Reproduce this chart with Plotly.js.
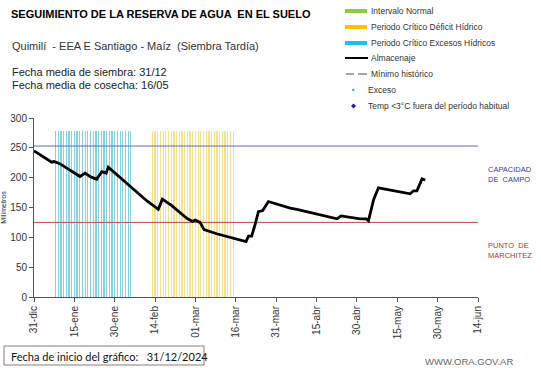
<!DOCTYPE html>
<html>
<head>
<meta charset="utf-8">
<script src="https://cdn.plot.ly/plotly-3.0.1.min.js"></script>
<style>
html,body{margin:0;padding:0;background:#fff;}
#chart{width:541px;height:368px;}
</style>
</head>
<body>
<div id="chart"></div>
<script>
// ---- data (day index from 31-dic) ----
const tickDays = [0,15,30,45,60,75,90,105,120,135,150,165];
const tickLabels = ["31-dic","15-ene","30-ene","14-feb","01-mar","16-mar","31-mar","15-abr","30-abr","15-may","30-may","14-jun"];

const storageDays = [0,6.6,7.5,9.7,17.1,19,20.8,23.3,25.2,26.8,27.6,36.9,42,46.2,47.7,51.2,56.8,59,59.9,61.7,63.2,67.9,78.8,79.7,80.9,82.2,83.4,85,87.1,95.2,97.7,112.6,114.1,121.2,123.5,124.3,126.2,128,139.8,141,142.3,144.2,145.4];
const storageMm   = [245,226,227,223,202,207.6,202,197.5,210,207.6,217.7,181,161,147,164,153,132,126.5,129,125,113,106,93,102,102,122,143,145,160,149,147,131,136,131,131,128,163,183,173,178,178,198,196];

const excessDays  = [8,9,10,11,12,13,14,15,16,17,18,19,20,21,22,23,24,25,26,27,28,29,30,31,32,33,34,35,36];
const deficitDays = [44,45,46,47,48,49,50,51,52,53,54,55,56,57,58,59,60,61,62,63,64,65,66,67,68,69,70,71,72,73,74];
const periodTop = 278;

const fieldCapacity = 253;
const wiltingPoint = 125;
const xRange = [0,165];

// ---- geometry helpers (layout only) ----
const W=541,H=368, L=34, R=63, T=118, B=71;
const pw = W-L-R, ph = H-T-B;
const px = x => (x-L)/pw;
const py = y => (H-B-y)/ph;

const traces = [
  {type:'bar', x:excessDays, y:excessDays.map(()=>periodTop), width:0.45,
   marker:{color:'rgba(50,180,205,0.6)', line:{width:0}}, showlegend:false, hoverinfo:'skip'},
  {type:'bar', x:deficitDays, y:deficitDays.map(()=>periodTop), width:0.45,
   marker:{color:'rgba(240,205,60,0.6)', line:{width:0}}, showlegend:false, hoverinfo:'skip'},
  {type:'scatter', mode:'lines', x:xRange, y:[fieldCapacity,fieldCapacity],
   line:{color:'#5570c0', width:1}, showlegend:false, hoverinfo:'skip'},
  {type:'scatter', mode:'lines', x:xRange, y:[wiltingPoint,wiltingPoint],
   line:{color:'#c04848', width:1}, showlegend:false, hoverinfo:'skip'},
  {type:'scatter', mode:'lines', x:storageDays, y:storageMm,
   line:{color:'#000', width:2.8}, showlegend:false, name:'Almacenaje'}
];

const font = "Liberation Sans, Arial, sans-serif";
const ann = [];
const shapes = [];
function text(t, x, y, size, opts){
  ann.push(Object.assign({text:t, xref:'paper', yref:'paper', x:px(x), y:py(y),
    xanchor:'left', yanchor:'middle', showarrow:false, align:'left',
    font:{family:font, size:size, color:'#222'}}, opts||{}));
}
text('<b>SEGUIMIENTO DE LA RESERVA DE AGUA  EN EL SUELO</b>', 9, 14, 11, {font:{family:font,size:11,color:'#000'}});
text('Quimilí  - EEA E Santiago - Maíz  (Siembra Tardía)', 10, 46, 11, {font:{family:font,size:11,color:'#333'}});
text('Fecha media de siembra: 31/12', 10, 72, 11, {font:{family:font,size:11,color:'#222'}});
text('Fecha media de cosecha: 16/05', 10, 85, 11, {font:{family:font,size:11,color:'#222'}});

// legend
const legY = [11,27,43,58,74,90,106];
const legText = ['Intervalo Normal','Periodo Crítico Déficit Hídrico','Periodo Crítico Excesos Hídricos','Almacenaje','Mínimo histórico','Exceso','Temp <3°C fuera del período habitual'];
legText.forEach((t,i)=>{
  const xs = i>=5 ? 366 : 369;
  text(t, xs, legY[i], 8.5, {font:{family:font,size:8.5,color:'#333'}});
});
function hline(x0,x1,y,color,w,dash){
  shapes.push({type:'line', xref:'paper', yref:'paper', x0:px(x0), x1:px(x1), y0:py(y), y1:py(y),
    line:{color:color, width:w, dash:dash||'solid'}});
}
hline(345,367,legY[0],'#92c84a',4);
hline(345,367,legY[1],'#ffc000',4);
hline(345,367,legY[2],'#1cc0f0',4);
hline(345,368,legY[3],'#000',2);
hline(346,354,legY[4],'#888',1.5);
hline(358,367,legY[4],'#888',1.5);
shapes.push({type:'circle', xref:'paper', yref:'paper', x0:px(352), x1:px(354.5), y0:py(88.8), y1:py(91.3),
  fillcolor:'#2ab8d8', line:{width:0}});
shapes.push({type:'path', xref:'paper', yref:'paper',
  path:`M ${px(353.5)} ${py(103.5)} L ${px(356)} ${py(106)} L ${px(353.5)} ${py(108.5)} L ${px(351)} ${py(106)} Z`,
  fillcolor:'#1a2a8a', line:{width:0}});

// right side labels
text('CAPACIDAD<br>DE  CAMPO', 486, 174.5, 7.5, {font:{family:font,size:7.5,color:'#3a3aa0'}});
text('PUNTO  DE<br>MARCHITEZ', 486, 250.5, 7.5, {font:{family:font,size:7.5,color:'#b83030'}});

// footer
shapes.push({type:'rect', xref:'paper', yref:'paper', x0:px(4), x1:px(204), y0:py(346), y1:py(365),
  line:{color:'#8a7c7c', width:1}, fillcolor:'rgba(0,0,0,0)'});
text('Fecha de inicio del gráfico:   31/12/2024', 9, 356, 11, {font:{family:'Lato, sans-serif',size:11,color:'#111'}});
text('WWW.ORA.GOV.AR', 423, 361, 9.5, {font:{family:font,size:9.5,color:'#666'}});

const layout = {
  width:W, height:H, margin:{l:L, r:R, t:T, b:B, pad:0},
  paper_bgcolor:'#fff', plot_bgcolor:'#fff',
  showlegend:false, barmode:'overlay', bargap:0,
  font:{family:font, size:10, color:'#333'},
  xaxis:{range:xRange, tickvals:tickDays, ticktext:tickLabels, tickangle:-90,
    showgrid:false, zeroline:false, showline:true, linecolor:'#555', linewidth:1,
    ticks:'outside', ticklen:4, tickcolor:'#555', tickfont:{family:font,size:10,color:'#333'}},
  yaxis:{range:[0,300], tickvals:[0,50,100,150,200,250,300], showgrid:false, zeroline:false,
    showline:true, linecolor:'#555', linewidth:1, ticks:'outside', ticklen:4, tickcolor:'#555',
    tickfont:{family:font,size:10,color:'#333'},
    title:{text:'Milímetros', font:{family:font,size:7,color:'#222'}, standoff:6}},
  annotations:ann, shapes:shapes
};
Plotly.newPlot('chart', traces, layout, {staticPlot:true, displayModeBar:false});
</script>
</body>
</html>
